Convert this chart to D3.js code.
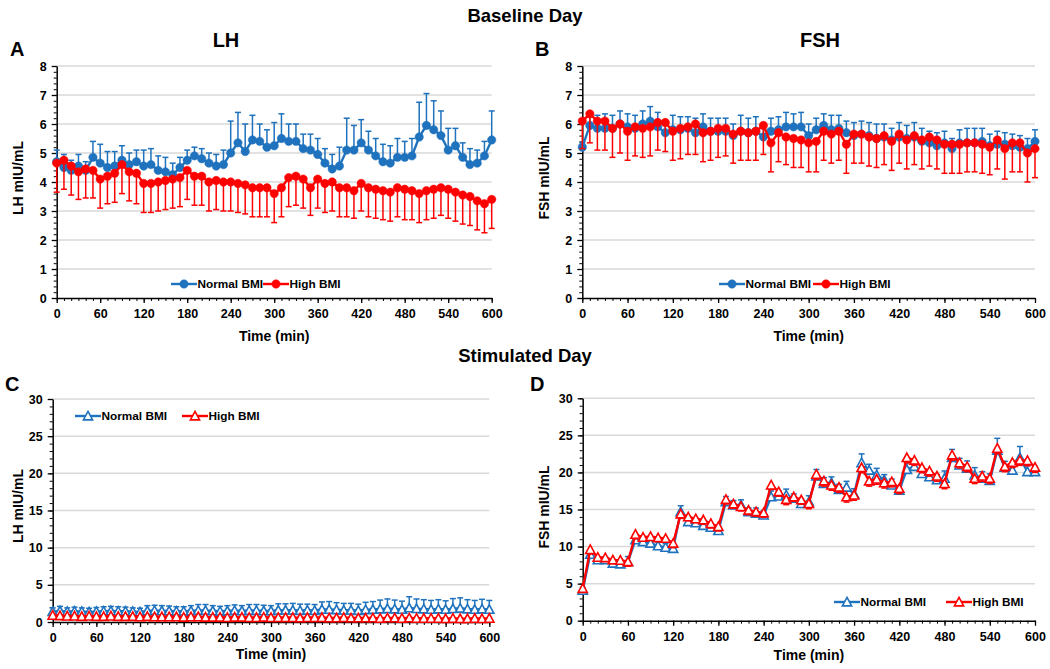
<!DOCTYPE html>
<html><head><meta charset="utf-8">
<script src="https://cdn.jsdelivr.net/npm/d3@7"></script>
<style>
body{margin:0;background:#fff;}
text{font-family:"Liberation Sans",Arial,sans-serif;font-weight:bold;fill:#000;}
</style>
</head><body>
<svg id="chart" width="1050" height="669"></svg>
<script>
// ---------- data ----------
const times = [0,10,20,30,40,50,60,70,80,90,100,110,120,130,140,150,160,170,180,190,200,210,220,230,240,250,260,270,280,290,300,310,320,330,340,350,360,370,380,390,400,410,420,430,440,450,460,470,480,490,500,510,520,530,540,550,560,570,580,590,600];
const xTickLabels = [0,60,120,180,240,300,360,420,480,540,600];
const yTicksBaseline = [0,1,2,3,4,5,6,7,8];
const yTicksStimulated = [0,5,10,15,20,25,30];
const seriesNames = ["Normal BMI","High BMI"];

// Panel A: LH baseline
const lhBaseNormal = [4.7,4.5,4.4,4.55,4.4,4.85,4.65,4.5,4.55,4.75,4.6,4.7,4.55,4.6,4.4,4.35,4.25,4.5,4.75,4.9,4.8,4.65,4.55,4.6,5.0,5.35,5.05,5.45,5.4,5.2,5.25,5.5,5.4,5.4,5.15,5.1,4.95,4.65,4.45,4.55,5.1,5.1,5.35,5.1,4.9,4.7,4.65,4.85,4.85,4.9,5.55,5.95,5.8,5.6,5.1,5.25,4.85,4.6,4.65,4.9,5.45];
const lhBaseNormalErr = [0.4,0.45,0.35,0.4,0.3,0.55,0.65,0.55,0.5,0.5,0.4,0.4,0.55,0.55,0.5,0.5,0.4,0.35,0.35,0.3,0.35,0.35,0.4,0.5,1.1,1.05,0.95,0.85,0.6,0.6,0.8,0.85,0.6,0.6,0.5,0.55,0.55,0.5,0.5,0.65,1.1,0.85,0.8,0.65,0.6,0.6,0.6,0.65,0.55,0.6,1.2,1.1,1.0,0.85,0.75,0.6,0.5,0.55,0.45,0.5,1.0];
const lhBaseHigh = [4.65,4.75,4.55,4.35,4.45,4.4,4.1,4.2,4.3,4.6,4.35,4.3,3.95,3.95,4.0,4.05,4.1,4.15,4.4,4.2,4.2,4.0,4.05,4.0,4.0,3.95,3.9,3.8,3.8,3.8,3.6,3.8,4.15,4.2,4.1,3.8,4.1,3.95,4.0,3.8,3.8,3.7,3.95,3.8,3.75,3.7,3.65,3.8,3.75,3.7,3.6,3.7,3.75,3.8,3.75,3.65,3.55,3.5,3.35,3.25,3.4];
const lhBaseHighErr = [1.0,1.0,1.0,0.95,1.0,0.95,1.0,0.95,1.0,1.0,1.0,1.05,1.0,1.0,1.0,1.0,1.0,1.0,1.0,1.0,1.0,1.0,1.0,1.0,1.0,1.0,1.0,1.0,1.0,1.0,1.0,1.0,1.0,1.0,1.0,0.95,1.0,1.0,1.0,1.0,1.0,0.95,0.95,1.0,1.0,1.0,1.0,1.0,1.05,1.0,1.0,1.0,1.0,0.95,1.0,1.0,1.0,1.0,1.0,1.0,1.0];

// Panel B: FSH baseline
const fshBaseNormal = [5.2,5.95,5.85,5.85,5.85,6.0,5.9,5.85,6.0,6.1,5.9,5.7,5.8,5.8,5.85,5.7,5.9,5.75,5.75,5.75,5.6,5.75,5.7,5.75,5.55,5.75,5.8,5.9,5.9,5.9,5.6,5.8,5.95,5.8,5.85,5.7,5.6,5.65,5.6,5.5,5.55,5.45,5.55,5.5,5.55,5.4,5.35,5.25,5.35,5.15,5.35,5.35,5.35,5.4,5.25,5.3,5.3,5.25,5.2,5.15,5.4];
const fshBaseNormalErr = [0.15,0.3,0.45,0.5,0.45,0.45,0.45,0.45,0.45,0.5,0.5,0.4,0.5,0.45,0.4,0.5,0.45,0.45,0.45,0.45,0.4,0.55,0.5,0.5,0.4,0.45,0.45,0.5,0.45,0.5,0.4,0.4,0.4,0.5,0.45,0.4,0.45,0.45,0.45,0.5,0.45,0.4,0.5,0.45,0.5,0.45,0.4,0.45,0.4,0.35,0.45,0.5,0.5,0.45,0.4,0.45,0.4,0.4,0.4,0.35,0.4];
const fshBaseHigh = [6.1,6.35,6.1,6.1,5.85,6.0,5.75,5.9,5.85,5.9,6.05,6.05,5.75,5.85,5.9,6.0,5.7,5.75,5.85,5.85,5.65,5.75,5.7,5.75,5.95,5.35,5.7,5.55,5.5,5.45,5.35,5.4,5.75,5.65,5.75,5.3,5.65,5.65,5.55,5.5,5.6,5.4,5.65,5.45,5.6,5.45,5.55,5.45,5.3,5.3,5.3,5.35,5.35,5.3,5.2,5.45,5.15,5.35,5.35,5.0,5.15];
const fshBaseHighErr = [0.95,1.0,1.0,1.0,1.0,1.0,1.0,1.0,1.0,1.0,0.95,1.0,1.0,1.05,0.95,1.05,1.0,1.0,1.0,0.95,1.0,1.0,0.95,1.0,1.0,1.0,1.0,0.95,1.0,0.95,1.0,1.05,1.0,1.0,1.0,1.0,1.0,1.0,1.0,1.0,1.0,1.0,1.0,1.0,1.0,1.0,1.0,1.0,1.0,1.0,1.0,1.0,1.0,1.0,0.95,1.0,1.05,1.0,1.0,1.0,1.0];

// Panel C: LH stimulated
const lhStimNormal = [1.4,1.5,1.4,1.45,1.4,1.35,1.4,1.45,1.5,1.45,1.45,1.4,1.35,1.5,1.55,1.5,1.5,1.45,1.45,1.5,1.55,1.55,1.5,1.45,1.5,1.55,1.5,1.55,1.55,1.5,1.5,1.6,1.6,1.6,1.55,1.6,1.55,1.7,1.7,1.65,1.6,1.6,1.55,1.65,1.7,1.75,1.8,1.75,1.7,1.9,1.8,1.75,1.7,1.75,1.7,1.8,1.85,1.75,1.7,1.75,1.7];
const lhStimNormalErr = [0.5,0.6,0.5,0.55,0.5,0.5,0.55,0.6,0.6,0.6,0.55,0.5,0.5,0.7,0.7,0.7,0.65,0.6,0.6,0.7,0.8,0.8,0.7,0.65,0.7,0.75,0.7,0.8,0.8,0.75,0.7,0.85,0.85,0.9,0.85,0.8,0.8,1.0,1.05,0.95,0.9,0.9,0.85,1.0,1.05,1.2,1.3,1.2,1.1,1.5,1.3,1.25,1.2,1.25,1.15,1.35,1.4,1.25,1.2,1.3,1.2];
const lhStimHigh = [0.9,0.85,0.8,0.8,0.75,0.8,0.75,0.75,0.8,0.75,0.75,0.75,0.7,0.75,0.7,0.7,0.7,0.7,0.65,0.7,0.7,0.65,0.65,0.65,0.6,0.65,0.65,0.6,0.6,0.65,0.6,0.6,0.6,0.6,0.55,0.6,0.6,0.6,0.55,0.55,0.6,0.55,0.55,0.55,0.55,0.5,0.55,0.55,0.5,0.55,0.5,0.5,0.5,0.5,0.45,0.5,0.45,0.45,0.5,0.45,0.5];
const lhStimHighErr = [0.45,0.4,0.4,0.4,0.4,0.4,0.4,0.35,0.4,0.35,0.35,0.35,0.35,0.35,0.35,0.35,0.35,0.35,0.35,0.35,0.35,0.35,0.35,0.35,0.35,0.35,0.35,0.35,0.35,0.35,0.35,0.35,0.35,0.35,0.3,0.35,0.35,0.35,0.3,0.3,0.35,0.3,0.3,0.3,0.3,0.3,0.3,0.3,0.3,0.3,0.3,0.3,0.3,0.3,0.3,0.3,0.3,0.3,0.3,0.3,0.3];

// Panel D: FSH stimulated
const fshStimNormal = [4.1,8.95,8.2,8.2,7.75,7.65,7.95,10.9,10.65,10.45,10.1,9.9,9.75,14.7,13.35,13.2,12.85,12.6,12.15,16.05,15.6,15.6,14.7,14.5,14.25,16.7,16.8,16.95,16.5,15.8,16.05,19.5,18.5,18.6,17.7,18.0,17.1,21.3,20.3,19.65,19.0,18.3,17.6,20.4,20.8,19.85,19.4,19.0,19.2,22.0,21.0,20.55,19.65,19.2,18.9,23.0,20.7,20.3,22.0,20.1,20.1];
const fshStimNormalErr = [0.4,0.5,0.4,0.4,0.5,0.5,0.7,0.6,0.5,0.5,0.5,0.5,0.5,0.8,0.6,0.6,0.7,0.5,0.6,0.7,0.6,0.7,0.5,0.7,0.6,0.8,0.7,0.8,0.6,0.6,0.8,0.9,0.8,0.8,0.7,0.8,0.7,1.2,0.8,0.9,0.7,0.8,0.6,0.9,0.8,0.8,0.8,0.7,1.0,1.1,0.9,1.0,1.0,0.9,0.9,1.6,0.8,0.7,1.5,0.8,0.7];
const fshStimHigh = [4.35,9.6,8.55,8.5,8.2,8.15,7.95,11.65,11.25,11.35,11.2,11.1,10.45,14.4,14.0,13.75,13.6,13.1,12.7,16.35,15.75,15.4,14.9,14.7,14.55,18.3,17.4,16.35,16.7,16.3,15.8,19.75,18.85,18.3,18.0,16.7,16.95,20.65,18.85,19.1,18.6,18.75,17.85,22.0,21.65,20.65,20.2,19.5,18.5,22.35,21.3,20.8,19.2,19.5,19.2,23.25,20.8,21.35,21.65,21.6,20.7];
const fshStimHighErr = [0.5,0.6,0.5,0.5,0.5,0.5,0.6,0.6,0.5,0.5,0.5,0.5,0.6,0.6,0.5,0.5,0.6,0.6,0.6,0.6,0.6,0.6,0.6,0.6,0.6,0.6,0.6,0.7,0.6,0.6,0.7,0.7,0.7,0.7,0.7,0.7,0.7,0.7,0.7,0.7,0.7,0.7,0.7,0.7,0.7,0.7,0.7,0.7,0.7,0.7,0.7,0.7,0.7,0.7,0.7,0.7,0.7,0.7,0.7,0.7,0.7];

// ---------- drawing ----------
const BLUE = "#1f72bd", RED = "#ff0000", GRID = "#d9d9d9";
const svg = d3.select("#chart");

function rows(vals, errs){ return times.map((t,i)=>({t, v:vals[i], e:errs[i]})); }

function drawMarker(sel, shape, color, cx, cy){
  if(shape === "circle"){
    sel.append("circle").attr("cx",cx).attr("cy",cy).attr("r",4.2).attr("fill",color).attr("stroke",color).attr("stroke-width",0.5);
  } else {
    const s = 4.6;
    sel.append("path").attr("d",`M${cx},${cy-s}L${cx+s},${cy+s*0.85}L${cx-s},${cy+s*0.85}Z`)
      .attr("fill","#fff").attr("stroke",color).attr("stroke-width",1.6);
  }
}

function panel(cfg){
  const x = d3.scaleLinear().domain([0,600]).range([cfg.x0,cfg.x1]);
  const y = d3.scaleLinear().domain([0,cfg.ymax]).range([cfg.y0,cfg.y1]);
  const g = svg.append("g");

  g.selectAll("line.grid").data(cfg.yTicks.filter(d=>d>0)).enter().append("line")
    .attr("x1",x(0)).attr("x2",x(600)).attr("y1",d=>y(d)).attr("y2",d=>y(d))
    .attr("stroke",GRID).attr("stroke-width",1.5);

  const yMinor = d3.range(0, cfg.ymax+1e-9, cfg.yMinorStep);
  g.append("g").attr("transform",`translate(${x(0)},0)`)
    .call(d3.axisLeft(y).tickValues(yMinor).tickSize(3).tickFormat(""))
    .call(a=>a.select(".domain").remove());
  g.append("g").attr("transform",`translate(0,${y(0)})`)
    .call(d3.axisBottom(x).tickValues(times).tickSize(3).tickFormat(""))
    .call(a=>a.select(".domain").remove());

  const ya = g.append("g").attr("transform",`translate(${x(0)},0)`)
    .call(d3.axisLeft(y).tickValues(cfg.yTicks).tickSize(5).tickPadding(5).tickSizeOuter(0));
  const xa = g.append("g").attr("transform",`translate(0,${y(0)})`)
    .call(d3.axisBottom(x).tickValues(xTickLabels).tickSize(5).tickPadding(6).tickSizeOuter(0));
  [ya,xa].forEach(a=>{
    a.selectAll("text").style("font-size","12.5px").style("font-weight","bold").attr("fill","#000")
      .style("font-family",'"Liberation Sans",Arial,sans-serif');
    a.select(".domain").attr("stroke","#000").attr("stroke-width",1.5);
    a.selectAll(".tick line").attr("stroke","#000").attr("stroke-width",1.3);
  });
  g.selectAll(".tick line").attr("stroke","#000");

  g.append("text").attr("x",(cfg.x0+cfg.x1)/2).attr("y",cfg.xTitleY).attr("text-anchor","middle")
    .style("font-size","14px").text("Time (min)");
  g.append("text").attr("transform",`translate(${cfg.yTitleX},${cfg.yTitleY}) rotate(-90)`)
    .attr("text-anchor","middle").style("font-size","14px").text(cfg.yTitle);

  const capW = 3;
  cfg.series.forEach((s,si)=>{
    const data = rows(s.vals, s.errs);
    const dir = s.up ? 1 : -1;
    const eg = g.append("g");
    data.forEach(d=>{
      const yEnd = y(d.v + dir*d.e);
      eg.append("line").attr("x1",x(d.t)).attr("x2",x(d.t)).attr("y1",y(d.v)).attr("y2",yEnd)
        .attr("stroke",s.color).attr("stroke-width",1.5);
      eg.append("line").attr("x1",x(d.t)-capW).attr("x2",x(d.t)+capW).attr("y1",yEnd).attr("y2",yEnd)
        .attr("stroke",s.color).attr("stroke-width",1.5);
    });
    g.append("path").datum(data).attr("fill","none").attr("stroke",s.color).attr("stroke-width",2.4)
      .attr("d", d3.line().x(d=>x(d.t)).y(d=>y(d.v)));
    const mg = g.append("g");
    data.forEach(d=>drawMarker(mg, cfg.shape, s.color, x(d.t), y(d.v)));
  });

  cfg.legend.forEach((L,i)=>{
    const color = cfg.series[i].color;
    g.append("line").attr("x1",L.x).attr("x2",L.x+26).attr("y1",cfg.legendY).attr("y2",cfg.legendY)
      .attr("stroke",color).attr("stroke-width",2.4);
    drawMarker(g, cfg.shape, color, L.x+13, cfg.legendY);
    g.append("text").attr("x",L.x+26.5).attr("y",cfg.legendY+4.3).style("font-size","11.8px").text(seriesNames[i]);
  });
}

function label(txt,x,y,size,anchor){
  svg.append("text").attr("x",x).attr("y",y).attr("text-anchor",anchor||"middle").style("font-size",size+"px").text(txt);
}
label("Baseline Day",525,22,18.5);
label("LH",226,47,20);
label("FSH",820,47,20);
label("A",10,56,20,"start");
label("B",535,56,20,"start");
label("Stimulated Day",525,362,18.5);
label("C",5,391,20,"start");
label("D",530,391,20,"start");

panel({x0:56.7,x1:491.7,y0:298,y1:66,ymax:8,yTicks:yTicksBaseline,yMinorStep:0.2,shape:"circle",
  xTitleY:341,yTitleX:23,yTitleY:178,yTitle:"LH mIU/mL",legendY:284,legend:[{x:171},{x:263}],
  series:[{vals:lhBaseNormal,errs:lhBaseNormalErr,color:BLUE,up:true},{vals:lhBaseHigh,errs:lhBaseHighErr,color:RED,up:false}]});
panel({x0:582.3,x1:1035,y0:298,y1:66,ymax:8,yTicks:yTicksBaseline,yMinorStep:0.2,shape:"circle",
  xTitleY:341,yTitleX:549,yTitleY:178,yTitle:"FSH mIU/mL",legendY:284,legend:[{x:719},{x:813}],
  series:[{vals:fshBaseNormal,errs:fshBaseNormalErr,color:BLUE,up:true},{vals:fshBaseHigh,errs:fshBaseHighErr,color:RED,up:false}]});
panel({x0:52.7,x1:489.3,y0:622,y1:399,ymax:30,yTicks:yTicksStimulated,yMinorStep:1,shape:"triangle",
  xTitleY:659,yTitleX:23,yTitleY:506,yTitle:"LH mIU/mL",legendY:416,legend:[{x:75},{x:182}],
  series:[{vals:lhStimNormal,errs:lhStimNormalErr,color:BLUE,up:true},{vals:lhStimHigh,errs:lhStimHighErr,color:RED,up:false}]});
panel({x0:582.7,x1:1035,y0:620.7,y1:398.3,ymax:30,yTicks:yTicksStimulated,yMinorStep:1,shape:"triangle",
  xTitleY:660,yTitleX:549,yTitleY:507,yTitle:"FSH mIU/mL",legendY:602,legend:[{x:834},{x:946}],
  series:[{vals:fshStimNormal,errs:fshStimNormalErr,color:BLUE,up:true},{vals:fshStimHigh,errs:fshStimHighErr,color:RED,up:false}]});
</script>
</body></html>
